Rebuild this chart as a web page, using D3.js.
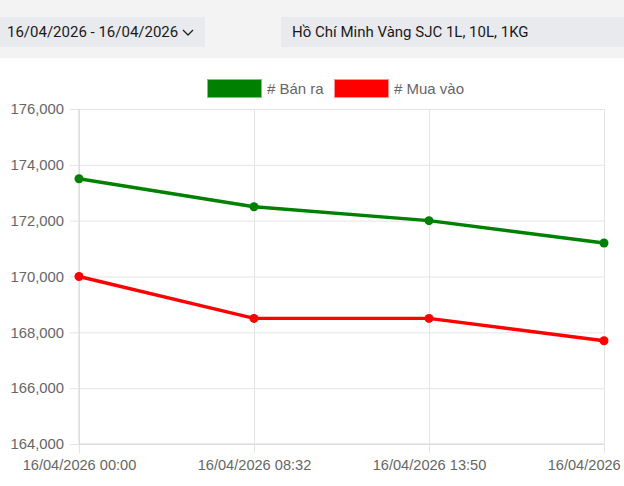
<!doctype html>
<html lang=vi>
<head>
  <meta charset="utf-8">
  <title>Giá vàng</title>
  <style>
body {
  margin: 0;
  width: 624px;
  height: 486px;
  overflow: hidden;
  position: relative;
  background: white;
  font-family: Roboto, sans-serif;
}
#top {
  position: absolute; left: 0; top: 0;
  width: 624px; height: 58px;
  background: #f3f3f4;
}
.box {
  position: absolute; top: 17px; height: 30px;
  line-height: 30px;
  background: #e9eaee;
  font-size: 15px;
  color: #1a1a1a;
  white-space: nowrap;
}
#chart { position: absolute; left: 0; top: 0; }
#chart text { font-family: "Liberation Sans", Arial, sans-serif; fill: #666; }
  </style>
</head>
<body>
<div id=top>
  <div class=box style="left:0;width:205px;padding-left:7px;box-sizing:border-box">16/04/2026 - 16/04/2026
    <svg width="12" height="8" style="position:absolute;left:182px;top:12px"><path d="M1,1 L6,6 L11,1" fill="none" stroke="#222" stroke-width="1.3"/></svg>
  </div>
  <div class=box style="left:281px;width:343px;padding-left:11px;box-sizing:border-box">Hồ Chí Minh Vàng SJC 1L, 10L, 1KG</div>
</div>
<svg id=chart width="624" height="486"></svg>

<script src="https://cdn.jsdelivr.net/npm/d3@7"></script>
<script>
  // data
  var times = ["16/04/2026 00:00", "16/04/2026 08:32", "16/04/2026 13:50", "16/04/2026 17:00"]
  var banRa = [173500, 172500, 172000, 171200]
  var muaVao = [170000, 168500, 168500, 167700]
  var yTicks = [164000, 166000, 168000, 170000, 172000, 174000, 176000]
  var seriesNames = ["# Bán ra", "# Mua vào"]
  var seriesColors = ["#008000", "#ff0000"]

  // plot area        t,   r,   b,   l
  var m = [109, 604, 444, 79]
  var gridColor = "#e4e4e4"

  var svg = d3.select("#chart")

  var x = d3.scalePoint().domain(times).range([m[3], m[1]])
  var y = d3.scaleLinear().domain([164000, 176000]).range([m[2], m[0]])

  // horizontal grid + y labels
  var gy = svg.append("g")
      .attr("transform", "translate(" + m[3] + ",0)")
      .call(d3.axisLeft(y).tickValues(yTicks).tickSizeInner(-(m[1] - m[3])).tickSizeOuter(0)
             .tickPadding(15).tickFormat(d3.format(",")))
  gy.select(".domain").remove()
  gy.selectAll("line").attr("x1", -9).attr("stroke", gridColor)
  gy.selectAll("text").attr("font-size", 14.8)

  // vertical grid + x labels (last label runs off the canvas, as in the original)
  var gx = svg.append("g")
      .attr("transform", "translate(0," + m[2] + ")")
      .call(d3.axisBottom(x).tickSizeInner(-(m[2] - m[0])).tickSizeOuter(0).tickPadding(16))
  gx.select(".domain").remove()
  gx.selectAll("line").attr("y1", 9).attr("stroke", gridColor)
  gx.selectAll("text").attr("font-size", 14.6)

  // axis borders
  svg.append("line").attr("x1", m[3]).attr("x2", m[1]).attr("y1", m[2]).attr("y2", m[2])
     .attr("stroke", "#d6d6d6")
  svg.append("line").attr("x1", m[3]).attr("x2", m[3]).attr("y1", m[0]).attr("y2", m[2])
     .attr("stroke", "#d6d6d6")

  // series
  var line = d3.line().x((d, i) => x(times[i])).y(d => y(d))
  ;[banRa, muaVao].forEach(function(s, k) {
    svg.append("path")
       .datum(s)
       .attr("d", line)
       .attr("fill", "none")
       .attr("stroke", seriesColors[k])
       .attr("stroke-width", 3.4)
    svg.append("g").selectAll("circle")
       .data(s).join("circle")
       .attr("cx", (d, i) => x(times[i]))
       .attr("cy", d => y(d))
       .attr("r", 4.5)
       .attr("fill", seriesColors[k])
  })

  // legend
  var legX = [207, 334]
  var leg = svg.append("g")
  seriesNames.forEach(function(n, k) {
    leg.append("rect")
       .attr("x", legX[k] + 0.5).attr("y", 79.5)
       .attr("width", 54).attr("height", 18)
       .attr("fill", seriesColors[k])
       .attr("stroke", k == 0 ? "#80c080" : "#ff9090")
       .attr("stroke-width", 1)
    leg.append("text")
       .attr("x", legX[k] + 60).attr("y", 94)
       .attr("font-size", 15)
       .text(n)
  })
</script>
</body>
</html>
